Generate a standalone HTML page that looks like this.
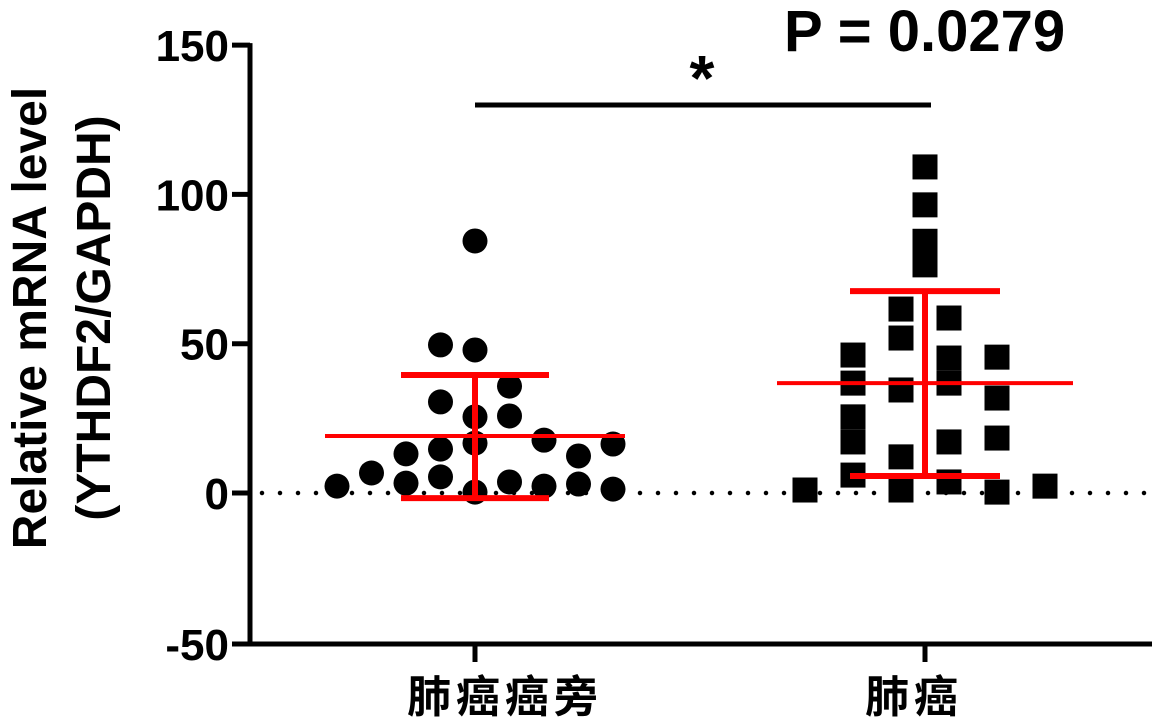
<!DOCTYPE html>
<html><head><meta charset="utf-8"><style>
html,body{margin:0;padding:0;background:#fff;}
svg{display:block;}
text{font-family:"Liberation Sans","Noto Sans CJK SC",sans-serif;}
</style></head><body>
<svg id="chart" width="1155" height="721" viewBox="0 0 1155 721">
<g id="axes"></g><g id="marks"></g>
</svg>
<script>
const categories = ["肺癌癌旁", "肺癌"];
const yTicks = [-50, 0, 50, 100, 150];
const g1Values = [84.4,49.6,47.9,35.8,30.5,25.5,25.8,17.7,13.1,14.7,16.7,12.4,16.4,6.7,2.3,3.3,5.4,0.3,3.7,2.3,3.0,1.3];
const g1Cols   = [0,-1,0,1,-1,0,1,2,-2,-1,0,3,4,-3,-4,-2,-1,0,1,2,3,4];
const g2Values = [109.2,96.5,84.3,80.3,76.4,61.6,51.9,34.5,12.1,1.0,58.6,45.2,36.8,17.1,3.7,46.2,36.8,25.5,17.1,6.0,45.5,31.8,18.4,0.3,1.0,2.3];
const g2Cols   = [0,0,0,0,0,-0.5,-0.5,-0.5,-0.5,-0.5,0.5,0.5,0.5,0.5,0.5,-1.5,-1.5,-1.5,-1.5,-1.5,1.5,1.5,1.5,1.5,-2.5,2.5];
const means = [19.1, 36.8];
const sdUpper = [39.5, 67.6];
const sdLower = [-1.7, 5.7];
const pText = "P = 0.0279";

const NS="http://www.w3.org/2000/svg";
function y(v){return 493 - v*2.986;}
const catX=[475,925];
const labelStart=[407,865];
const colSp=[34.5,48];
function mk(tag,attrs,parent){const e=document.createElementNS(NS,tag);for(const k in attrs)e.setAttribute(k,attrs[k]);parent.appendChild(e);return e;}
const axes=document.getElementById('axes'), marks=document.getElementById('marks');

let zl=mk('line',{x1:262,x2:1150,y1:y(0),y2:y(0),stroke:'#000','stroke-width':4.5,'stroke-linecap':'round','stroke-dasharray':'0 18'},axes);



let ya=mk('line',{x1:250,x2:250,y1:y(150)-2,y2:646,stroke:'#000','stroke-width':5},axes);


let xa=mk('line',{x1:248,x2:1152,y1:644,y2:644,stroke:'#000','stroke-width':5},axes);


yTicks.forEach(t=>{
  const yy=t===-50?644:y(t);
  let tk=mk('line',{x1:232,x2:250,y1:yy,y2:yy,stroke:'#000','stroke-width':5},axes);
  
  
  let tl=mk('text',{x:229,y:yy+16,'text-anchor':'end','font-size':44,'font-weight':'bold'},axes);
  tl.textContent=t;
  
  
});
categories.forEach((c,i)=>{
  let tk=mk('line',{x1:catX[i],x2:catX[i],y1:644,y2:662,stroke:'#000','stroke-width':5},axes);
  
  
  let tl=mk('text',{x:labelStart[i],y:712,'text-anchor':'start','font-size':44,'font-weight':'bold','letter-spacing':5},axes);
  tl.textContent=c;
  
  
});
let t1=mk('text',{transform:'translate(46,318) rotate(-90)','text-anchor':'middle','font-size':48,'font-weight':'bold'},axes);
t1.textContent='Relative mRNA level';


let t2=mk('text',{transform:'translate(110,318) rotate(-90)','text-anchor':'middle','font-size':48,'font-weight':'bold'},axes);
t2.textContent='(YTHDF2/GAPDH)';



g1Values.forEach((v,i)=>{
  let c=mk('circle',{cx:catX[0]+g1Cols[i]*colSp[0],cy:y(v),r:12.5,fill:'#000'},marks);
  
  
});
g2Values.forEach((v,i)=>{
  let r=mk('rect',{x:catX[1]+g2Cols[i]*colSp[1]-12.5,y:y(v)-12.5,width:25,height:25,fill:'#000'},marks);
  
  
});
const capHalf=[74,75], meanHalf=[150,148];
[0,1].forEach(i=>{
  const cx=catX[i];
  let v=mk('line',{x1:cx,x2:cx,y1:y(sdUpper[i]),y2:y(sdLower[i]),stroke:'#f00','stroke-width':6},marks);
  
  
  let u=mk('line',{x1:cx-capHalf[i],x2:cx+capHalf[i],y1:y(sdUpper[i]),y2:y(sdUpper[i]),stroke:'#f00','stroke-width':6},marks);
  
  
  let l=mk('line',{x1:cx-capHalf[i],x2:cx+capHalf[i],y1:y(sdLower[i]),y2:y(sdLower[i]),stroke:'#f00','stroke-width':6},marks);
  
  
  let m=mk('line',{x1:cx-meanHalf[i],x2:cx+meanHalf[i],y1:y(means[i]),y2:y(means[i]),stroke:'#f00','stroke-width':4},marks);
  
  
});
let sb=mk('line',{x1:475,x2:931,y1:105,y2:105,stroke:'#000','stroke-width':5},marks);


let st=mk('text',{x:702,y:100,'text-anchor':'middle','font-size':64,'font-weight':'bold'},marks);
st.textContent='*';


let pt=mk('text',{x:784,y:51,'font-size':58,'font-weight':'bold'},marks);
pt.textContent=pText;


</script>
</body></html>
